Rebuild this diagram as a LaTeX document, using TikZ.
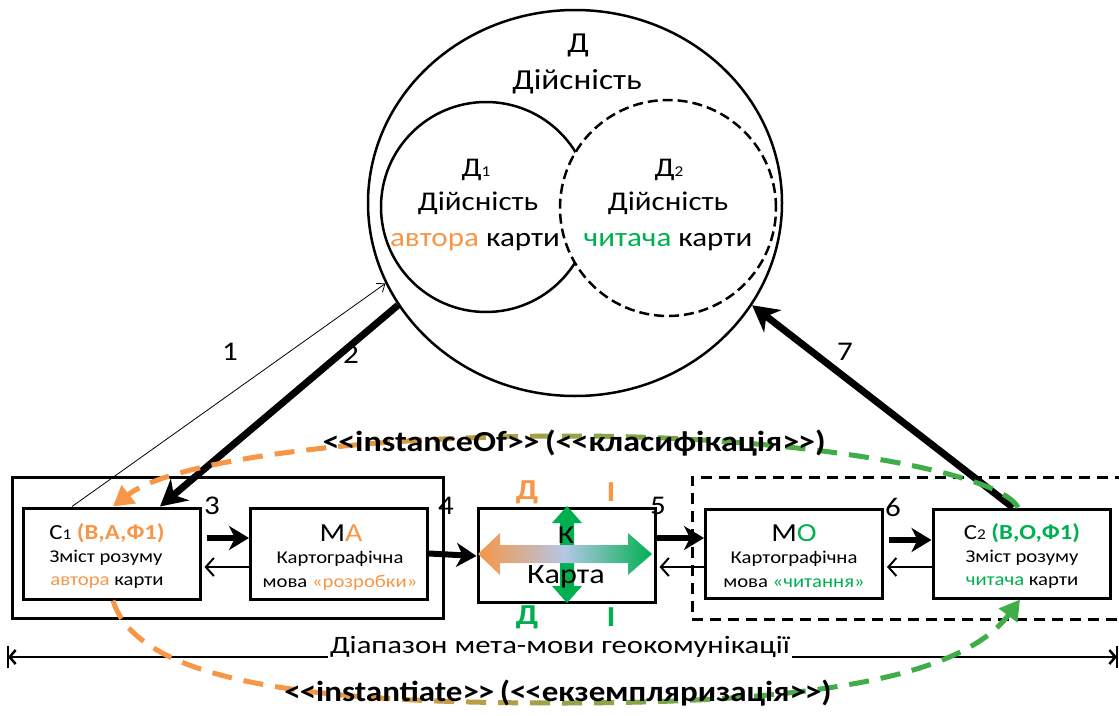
\documentclass[tikz,border=0pt]{standalone}
\usepackage{fontspec}
\setmainfont{Carlito}
\usetikzlibrary{arrows.meta,shapes.geometric}
\definecolor{corange}{HTML}{F79646}
\definecolor{cgreen}{HTML}{00B050}
\definecolor{cgreenc}{HTML}{3FAE49}
\definecolor{cmid}{HTML}{B4C7E7}
\newcommand{\fsz}[1]{\fontsize{#1}{#1}\selectfont}
\newcommand{\dlt}{<\kern-1pt<}
\newcommand{\dgt}{>\kern-1pt>}
\newcommand{\idx}[1]{{\fsz{15}#1}}
% text is set slightly wide throughout
\newcommand{\hx}[1]{\scalebox{1.15}[1]{#1}}
\tikzset{
  box/.style={draw, line width=3pt, rectangle, minimum width=177pt,
    minimum height=91pt, inner sep=0pt},
  lbl/.style={inner sep=0pt, font=\fsz{27}},
  thickarrow/.style={line width=6pt, -{Stealth[length=20pt,width=24pt,inset=6pt]}},
  heavyarrow/.style={line width=7pt, -{Stealth[length=26pt,width=28pt,inset=8pt]}},
  backarrow/.style={line width=2pt, -{Straight Barb[length=8pt,width=18pt]}},
  curve/.style={line width=5pt, dash pattern=on 20pt off 12pt},
  txt/.style={inner sep=0pt, align=center}
}
\begin{document}
\begin{tikzpicture}[x=1pt,y=-1pt]
\useasboundingbox (0,0) rectangle (1119,715);

% reality: outer ellipse with the two overlapping circles
\node[ellipse, draw, line width=2.5pt, minimum width=414pt, minimum height=386pt,
      inner sep=0pt] (big) at (575,203) {};
\node[circle, draw, line width=2.5pt, minimum size=210pt, inner sep=0pt] (d1) at (486,207) {};
\node[circle, draw, fill=white, line width=2.5pt, dash pattern=on 10pt off 5pt,
      minimum size=216pt, inner sep=0pt] (d2) at (668,208) {};

\node[txt, font=\fsz{29}] (dT) at (578,45) {\hx{Д}};
\node[txt, font=\fsz{29}] (dTn) at (577,82) {\hx{Дійсність}};
\node[txt, font=\fsz{27}] (d1a) at (476,170) {\hx{Д\idx{1}}};
\node[txt, font=\fsz{27}] (d1b) at (478,203) {\hx{Дійсність}};
\node[txt, font=\fsz{27}] (d1c) at (475,242) {\hx{\textcolor{corange}{автора} карти}};
\node[txt, font=\fsz{27}] (d2a) at (669,170) {\hx{Д\idx{2}}};
\node[txt, font=\fsz{27}] (d2b) at (668,203) {\hx{Дійсність}};
\node[txt, font=\fsz{27}] (d2c) at (668,242) {\hx{\textcolor{cgreen}{читача} карти}};

% group frames
\node[draw, line width=3pt, minimum width=431pt, minimum height=141pt, inner sep=0pt]
  (grpA) at (227.5,547.5) {};
\begin{scope}
  \clip (0,0) rectangle (1119,715);
  \node[draw, line width=3pt, dash pattern=on 11pt off 7pt, minimum width=443pt,
        minimum height=142pt, inner sep=0pt] (grpO) at (913.5,548) {};
\end{scope}

% chain of boxes
\node[box] (c1) at (111.5,553.5) {};
\node[box] (ma) at (339,553.5) {};
\node[box, minimum height=94pt] (k) at (566.5,555) {};
\node[box, minimum height=89pt] (mo) at (794,553.5) {};
\node[box, minimum height=89pt] (c2) at (1021.5,553.5) {};

% map: two-way arrows inside the map box
\fill[cgreen] (567,506) -- (582,523) -- (574,523) -- (574,586) -- (582,586)
  -- (567,603) -- (552,586) -- (560,586) -- (560,523) -- (552,523) -- cycle;
\shade[left color=corange, right color=cgreen, middle color=cmid]
  (478,554) -- (500,533) -- (500,545) -- (628,545) -- (628,533) -- (652,554)
  -- (628,575) -- (628,563) -- (500,563) -- (500,575) -- cycle;

% box texts
\node[txt, font=\fsz{21.5}] (c1a) at (107,533) {\hx{С\idx{1} \textbf{\textcolor{corange}{(В,А,Ф1)}}}};
\node[txt, font=\fsz{18}] (c1b) at (106,558) {\hx{Зміст розуму}};
\node[txt, font=\fsz{18}] (c1c) at (107,583) {\hx{\textcolor{corange}{автора} карти}};
\node[txt, font=\fsz{26}] (maa) at (341,533) {\hx{М\textcolor{corange}{А}}};
\node[txt, font=\fsz{18}] (mab) at (340,559) {\hx{Картографічна}};
\node[txt, font=\fsz{18}] (mac) at (340,583) {\hx{мова \textcolor{corange}{«розробки»}}};
\node[txt, font=\fsz{26}] (ka) at (566,535) {\hx{К}};
\node[txt, font=\fsz{28}] (kb) at (566,577) {\hx{Карта}};
\node[txt, font=\fsz{26}] (moa) at (794,533) {\hx{М\textcolor{cgreen}{О}}};
\node[txt, font=\fsz{18}] (mob) at (794,559) {\hx{Картографічна}};
\node[txt, font=\fsz{18}] (moc) at (794,583) {\hx{мова \textcolor{cgreen}{«читання»}}};
\node[txt, font=\fsz{21.5}] (c2a) at (1022,533) {\hx{С\idx{2} \textbf{\textcolor{cgreen}{(В,О,Ф1)}}}};
\node[txt, font=\fsz{18}] (c2b) at (1022,558) {\hx{Зміст розуму}};
\node[txt, font=\fsz{18}] (c2c) at (1022,583) {\hx{\textcolor{cgreen}{читача} карти}};

% letters around the map box
\node[txt, font=\fsz{29}\bfseries, text=corange] (ld1) at (527,492) {\hx{Д}};
\node[txt, font=\fsz{29}\bfseries, text=corange] (li1) at (611,492) {\hx{І}};
\node[txt, font=\fsz{29}\bfseries, text=cgreen] (ld2) at (527,617) {\hx{Д}};
\node[txt, font=\fsz{29}\bfseries, text=cgreen] (li2) at (611,617) {\hx{І}};

% arrows along the chain
\draw[thickarrow] ([xshift=5pt,yshift=15.5pt]c1.east) -- ([yshift=15.5pt]ma.west);
\draw[backarrow] ([yshift=-13.5pt]ma.west) -- ([xshift=3pt,yshift=-13.5pt]c1.east);
\draw[thickarrow] (ma.east) -- ([yshift=-1pt]k.west);
\draw[thickarrow] ([yshift=17pt]k.east) -- ([yshift=15.5pt]mo.west);
\draw[backarrow] ([yshift=-13.5pt]mo.west) -- ([xshift=3pt,yshift=-12pt]k.east);
\draw[thickarrow] ([xshift=5pt,yshift=13.5pt]mo.east) -- ([yshift=13.5pt]c2.west);
\draw[backarrow] ([yshift=-13.5pt]c2.west) -- ([xshift=3pt,yshift=-13.5pt]mo.east);

\node[lbl] (n3) at (212,506) {\hx{3}};
\node[lbl] (n4) at (446,506) {\hx{4}};
\node[lbl] (n5) at (658,506) {\hx{5}};
\node[lbl] (n6) at (893,507) {\hx{6}};

% arrows between minds and reality
\draw[line width=0.8pt, -{Straight Barb[length=7pt,width=11pt]}]
  ([xshift=-39.5pt]c1.north) -- (big.203);
\draw[heavyarrow] (big.210) -- ([xshift=48.5pt]c1.north);
\draw[heavyarrow] ([xshift=-8.5pt]c2.north) -- (big.330);
\node[lbl] (n1) at (230,352) {\hx{1}};
\node[lbl] (n2) at (351,355) {\hx{2}};
\node[lbl] (n7) at (845,352) {\hx{7}};

% range of the geocommunication meta-language
\coordinate (rl) at (8,657);
\coordinate (rr) at (1117,657);
\draw[line width=2.5pt, {Straight Barb[length=6pt,width=14pt]}-{Straight Barb[length=6pt,width=14pt]}] (rl) -- (rr);
\draw[line width=2.5pt] ([yshift=11pt]rl) -- ([yshift=-11pt]rl);
\draw[line width=2.5pt] ([yshift=11pt]rr) -- ([yshift=-11pt]rr);
\node[txt, fill=white, inner xsep=2pt, font=\fsz{25}] (rt) at (560,647)
  {\resizebox{460pt}{\height}{Діапазон мета-мови геокомунікації}};

% dashed relations, colour blending from orange to green
\foreach \i in {0,...,56} {
  \pgfmathsetmacro\xa{\i*20}
  \pgfmathsetmacro\mixp{min(100,max(0,(\xa+10-300)/(830-300)*100))}
  \colorlet{curvec}{cgreenc!\mixp!corange}
  \begin{scope}
    \clip (\xa-0.5,0) rectangle (\xa+20.5,715);
    \draw[curve, draw=curvec, -{Triangle[length=20pt,width=22pt]}]
      ([xshift=-3.5pt]c2.north) .. controls (1000,472) and (800,436) .. (570,436)
      .. controls (350,436) and (170,462) .. ([xshift=1.5pt]c1.north);
    \draw[curve, draw=curvec, -{Triangle[length=20pt,width=22pt]}]
      ([xshift=1.5pt]c1.south) .. controls (140,690) and (350,703) .. (560,703)
      .. controls (800,703) and (960,680) .. ([xshift=-1.5pt]c2.south);
  \end{scope}
}

\node[txt, font=\fsz{29}\bfseries] (inst) at (574,443)
  {\resizebox{503pt}{\height}{\dlt instanceOf\dgt\,(\dlt класифікація\dgt)}};
\node[txt, font=\fsz{29}\bfseries] (ins2) at (558,693)
  {\resizebox{547pt}{\height}{\dlt instantiate\dgt\,(\dlt екземпляризація\dgt)}};
\end{tikzpicture}
\end{document}
